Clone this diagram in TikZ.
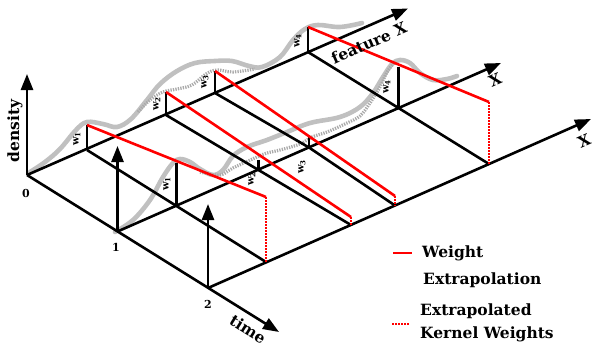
\documentclass[tikz,border=0pt]{standalone}
\usepackage{fontspec}
\setmainfont{DejaVu Serif}
\usetikzlibrary{arrows.meta,calc}
\definecolor{curvegray}{RGB}{192,192,192}
\definecolor{kerngray}{RGB}{170,170,170}
\definecolor{wred}{RGB}{255,0,0}
\tikzset{
  gridline/.style={line width=2.6pt, black},
  axarrow/.style={gridline, -{Triangle[length=16pt,width=12pt]}},
  redline/.style={line width=2.6pt, wred},
  reddot/.style={line width=2.6pt, wred, dash pattern=on 2pt off 1pt},
  dens/.style={line width=4.6pt, curvegray, line cap=round},
  kern/.style={line width=3.2pt, kerngray, dash pattern=on 1.3pt off 1.2pt},
  wlab/.style={rotate=90, font=\bfseries\fontsize{10}{10}\selectfont, inner sep=0pt},
  biglab/.style={font=\bfseries\fontsize{15.5}{15.5}\selectfont, inner sep=0pt},
  numlab/.style={font=\bfseries\fontsize{11}{11}\selectfont, inner sep=0pt},
}
\begin{document}
\begin{tikzpicture}[x=1pt,y=-1pt]
\useasboundingbox (0,0) rectangle (592,346);
% grid points
\coordinate (o0) at (27,175);
\coordinate (a0) at (87,150);
\coordinate (b0) at (166,115);
\coordinate (c0) at (215,93);
\coordinate (d0) at (308,52);
\coordinate (o2) at (208,288);
\coordinate (a2) at (266,262);
\coordinate (b2) at (351,225);
\coordinate (c2) at (395,205.5);
\coordinate (d2) at (489,164);
\coordinate (o1) at ($(o0)!0.5!(o2)$);
\coordinate (a1) at ($(a0)!0.5!(a2)$);
\coordinate (b1) at ($(b0)!0.5!(b2)$);
\coordinate (c1) at (309,147.5);
\coordinate (d1) at ($(d0)!0.5!(d2)$);
% tips
\coordinate (dentip) at (27,74);
\coordinate (f0tip) at (408,8.5);
\coordinate (f1tip) at (501,63);
\coordinate (f2tip) at (591,119);
\coordinate (timetip) at (279,332);
\coordinate (v1tip) at (117.5,146);
\coordinate (v2tip) at (208,204);
% weight tops
\coordinate (a0t) at (87,125);
\coordinate (b0t) at (166,92);
\coordinate (c0t) at (215,71);
\coordinate (d0t) at (308,27);
\coordinate (a1t) at (176.5,163);
\coordinate (b1t) at (258.5,160);
\coordinate (c1t) at (309,136);
\coordinate (d1t) at (398.5,67);
\coordinate (a2t) at (266,197);
\coordinate (b2t) at (351,217);
\coordinate (c2t) at (395,196);
\coordinate (d2t) at (489,102);

% density curves (row 0)
\draw[dens] plot[smooth,tension=0.6] coordinates {(30,172) (45,162) (60,149) (76,130) (87,122) (103,124) (117,127) (131,119) (147,100) (160,84) (177,71) (195,63) (215,61) (232,61) (249,66) (262,67) (280,57) (293,40) (305,29) (318,25) (340,27) (362,23)};
\draw[kern] plot[smooth,tension=0.6] coordinates {(138,112) (150,100) (163,92) (177,89) (192,85) (206,74) (217,70) (233,72) (255,69)};
% density curves (row 1)
\draw[dens] plot[smooth,tension=0.6] coordinates {(115,232) (133,220) (150,200) (163,177) (173,163) (180,159) (190,162) (200,169) (213,175) (223,170) (233,156) (247,147) (267,140) (287,132) (310,123) (340,117) (360,107) (373,93) (383,77) (392,64) (400,60) (410,63) (420,73) (433,80) (447,79) (457,76)};
\draw[kern] plot[smooth,tension=0.6] coordinates {(200,172) (220,175) (233,168) (257,157) (267,153) (280,150) (300,144) (312,137) (327,132) (347,123) (360,116) (370,103) (380,87) (387,72) (394,63)};

% feature axes
\draw[axarrow] (o0) -- (f0tip);
\draw[axarrow] (o1) -- (f1tip);
\draw[axarrow] (o2) -- (f2tip);
% time lines
\draw[gridline] (a0) -- (a1) -- (a2);
\draw[gridline] (b0) -- (b1) -- (b2);
\draw[gridline] (c0) -- (c1) -- (c2);
\draw[gridline] (d0) -- (d1) -- (d2);
\draw[axarrow] (o0) -- (timetip);
% vertical axes
\draw[axarrow] (o0) -- (dentip);
\draw[axarrow] (o1) -- (v1tip);
\draw[axarrow] (o2) -- (v2tip);
% weights
\foreach \p in {a0,b0,c0,d0,a1,b1,c1,d1}{\draw[gridline] (\p) -- (\p t);}
% extrapolation
\draw[redline] (a0t) -- (a2t);
\draw[redline] (b0t) -- (b2t);
\draw[redline] (c0t) -- (c2t);
\draw[redline] (d0t) -- (d2t);
\draw[reddot] (a2t) -- (a2);
\draw[reddot] (b2t) -- (b2);
\draw[reddot] (c2t) -- (c2);
\draw[reddot] (d2t) -- (d2);

% weight labels
\node[wlab] (wa0) at (77,139) {w\textsubscript{1}};
\node[wlab] (wb0) at (157,104) {w\textsubscript{2}};
\node[wlab] (wc0) at (205,82) {w\textsubscript{3}};
\node[wlab] (wd0) at (298,41) {w\textsubscript{4}};
\node[wlab] (wa1) at (167,184) {w\textsubscript{1}};
\node[wlab] (wb1) at (252,179) {w\textsubscript{2}};
\node[wlab] (wc1) at (302,167) {w\textsubscript{3}};
\node[wlab] (wd1) at (387,87) {w\textsubscript{4}};

% axis labels
\node[numlab] (n0) at (26,193) {0};
\node[numlab] (n1) at (116,247) {1};
\node[numlab] (n2) at (208,304) {2};
\node[biglab, rotate=90] (dlab) at (15,131) {density};
\node[biglab, rotate=-32] (tlab) at (248,329) {time};
\node[biglab, rotate=23.7] (flab) at (369,43) {feature X};
\node[biglab, rotate=23.7] (x1lab) at (495,80) {X};
\node[biglab, rotate=23.7] (x2lab) at (584,141) {X};

% legend
\coordinate (lga) at (393,253);
\coordinate (lgb) at (412,253);
\coordinate (lgc) at (392,324);
\coordinate (lgd) at (410,324);
\draw[redline] (lga) -- (lgb);
\draw[reddot] (lgc) -- (lgd);
\node[biglab, anchor=west] (lg1) at (422,253) {Weight};
\node[biglab, anchor=west] (lg2) at (423,280) {Extrapolation};
\node[biglab, anchor=west] (lg3) at (420,311) {Extrapolated};
\node[biglab, anchor=west] (lg4) at (420,334) {Kernel Weights};
\end{tikzpicture}
\end{document}
